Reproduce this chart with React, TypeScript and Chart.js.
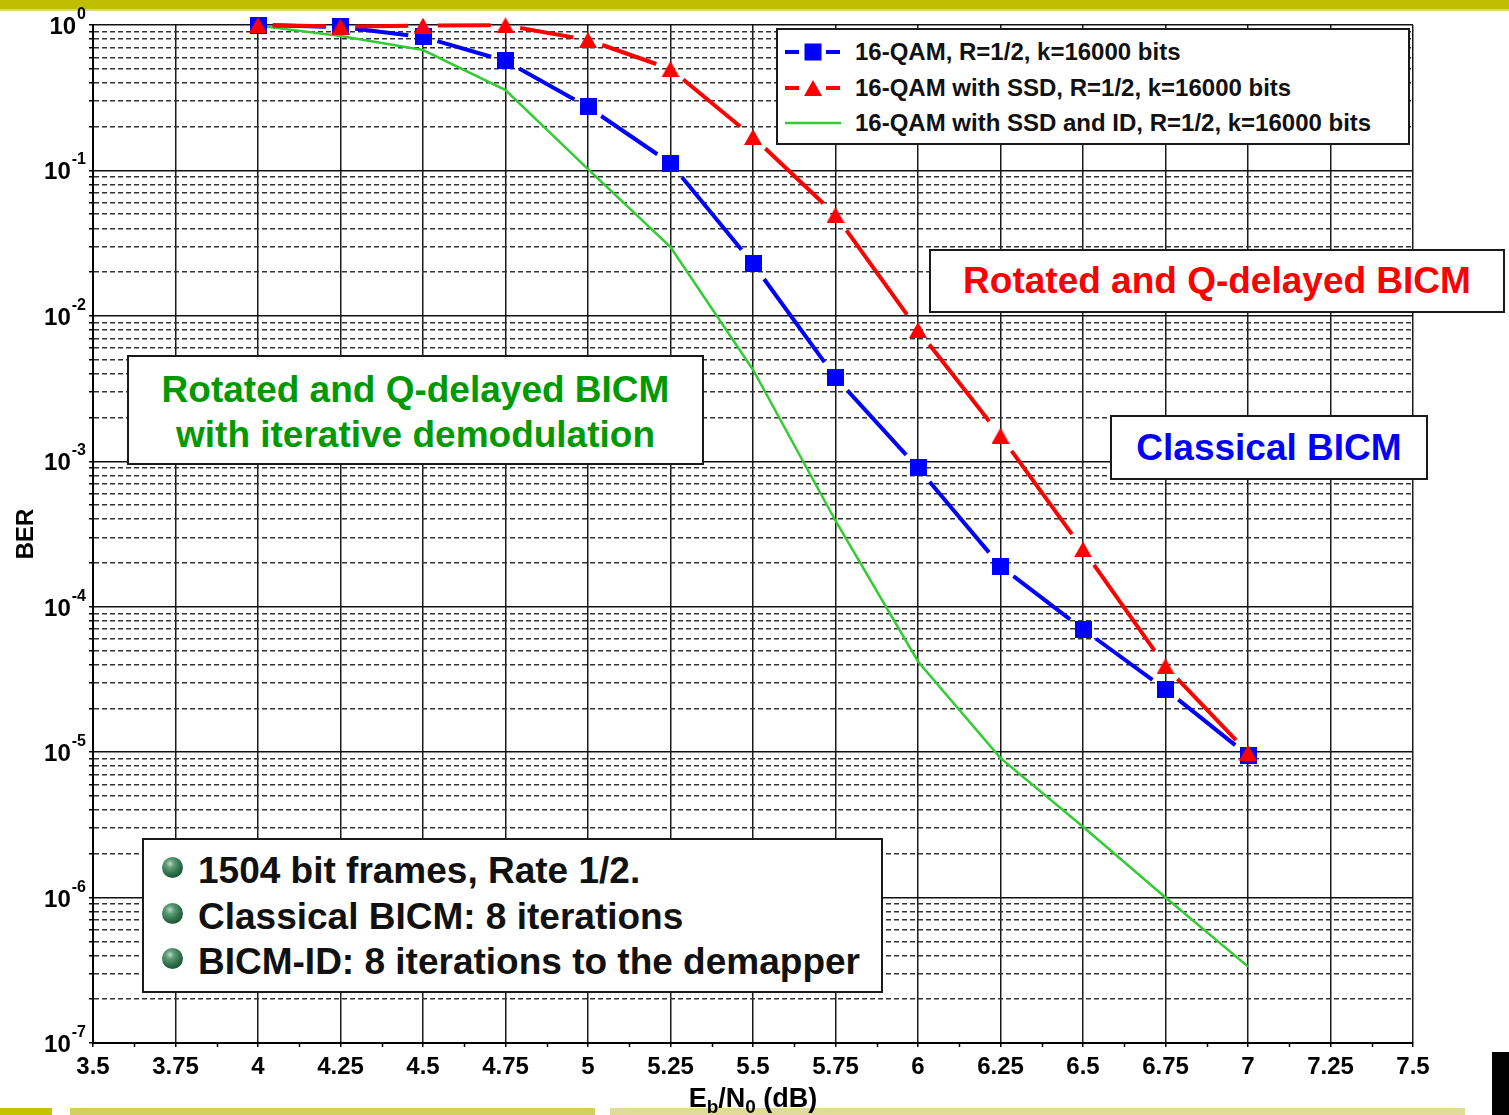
import React, { useEffect, useRef } from 'react';
import { Chart, registerables } from 'chart.js';

Chart.register(...registerables);

const FONT = '"Liberation Sans", Arial, Helvetica, sans-serif';

// ---------------- data ----------------
const ebn0Db = [4, 4.25, 4.5, 4.75, 5, 5.25, 5.5, 5.75, 6, 6.25, 6.5, 6.75, 7];
const berClassical = [1.0, 0.969, 0.827, 0.566, 0.273, 0.112, 0.0228, 0.00378, 9.0e-4, 1.9e-4, 7.0e-5, 2.7e-5, 9.5e-6];
const berSsd = [1.0, 0.975, 0.99, 0.995, 0.789, 0.498, 0.17, 0.0494, 0.008, 0.0015, 2.48e-4, 3.9e-5, 9.9e-6];
const berSsdId = [0.99, 0.84, 0.673, 0.357, 0.102, 0.0297, 0.00426, 3.9e-4, 4.2e-5, 9.1e-6, 3.07e-6, 1.0e-6, 3.35e-7];

const xTickValues = [3.5, 3.75, 4, 4.25, 4.5, 4.75, 5, 5.25, 5.5, 5.75, 6, 6.25, 6.5, 6.75, 7, 7.25, 7.5];
const xTickLabels = ['3.5', '3.75', '4', '4.25', '4.5', '4.75', '5', '5.25', '5.5', '5.75', '6', '6.25', '6.5', '6.75', '7', '7.25', '7.5'];
const yDecadeExponents = [0, -1, -2, -3, -4, -5, -6, -7];
const yMinorMultipliers = [2, 3, 4, 5, 6, 7, 8, 9];

const seriesLabels = [
  '16-QAM, R=1/2, k=16000 bits',
  '16-QAM with SSD, R=1/2, k=16000 bits',
  '16-QAM with SSD and ID, R=1/2, k=16000 bits',
];
const xTitleParts = [
  { t: 'E', sub: false },
  { t: 'b', sub: true },
  { t: '/N', sub: false },
  { t: '0', sub: true },
  { t: ' (dB)', sub: false },
];
const yTitle = 'BER';
const redNote = 'Rotated and Q-delayed BICM';
const blueNote = 'Classical BICM';
const greenNoteLines = ['Rotated and Q-delayed BICM', 'with iterative demodulation'];
const bulletLines = ['1504 bit frames, Rate 1/2.', 'Classical BICM: 8 iterations', 'BICM-ID: 8 iterations to the demapper'];

// ---------------- helpers ----------------
const BLUE = '#0000FF';
const RED = '#FF0000';
const GREEN_LINE = '#33CC33';

function isDecade(v: number | undefined) {
  if (v === undefined || v <= 0) return false;
  const l = Math.log10(v);
  return Math.abs(l - Math.round(l)) < 1e-6;
}

function buildYTicks() {
  const vals: number[] = [];
  const exps = [...yDecadeExponents].sort((a, b) => a - b);
  exps.forEach((e) => {
    vals.push(Number(Math.pow(10, e).toPrecision(12)));
    if (e < 0) {
      yMinorMultipliers.forEach((m) => vals.push(Number((m * Math.pow(10, e)).toPrecision(12))));
    }
  });
  return vals.sort((a, b) => a - b).map((value) => ({ value, major: isDecade(value) }));
}

function makeTriangle(color: string, w: number, h: number) {
  const c = document.createElement('canvas');
  c.width = w;
  c.height = h;
  const g = c.getContext('2d')!;
  g.fillStyle = color;
  g.beginPath();
  g.moveTo(w / 2, 0);
  g.lineTo(w, h);
  g.lineTo(0, h);
  g.closePath();
  g.fill();
  return c;
}

function makeSquare(color: string, s: number) {
  const c = document.createElement('canvas');
  c.width = s;
  c.height = s;
  const g = c.getContext('2d')!;
  g.fillStyle = color;
  g.fillRect(0, 0, s, s);
  return c;
}

// dash for each segment: leave a gap around each marker
const gapDash = (ctx: any) => {
  const L = Math.hypot(ctx.p1.x - ctx.p0.x, ctx.p1.y - ctx.p0.y);
  const g = Math.min(9 + 0.07 * L, L / 2);
  return [0, g, Math.max(L - 2 * g, 0), 10000 + ctx.p0DataIndex];
};

const overlayPlugin = {
  id: 'overlayText',
  afterDraw(chart: any) {
    const { ctx } = chart;
    const x = chart.scales.x;
    const y = chart.scales.y;
    ctx.save();
    ctx.fillStyle = '#000';
    ctx.textBaseline = 'alphabetic';
    // y tick labels 10^e
    yDecadeExponents.forEach((e) => {
      const py = y.getPixelForValue(Math.pow(10, e));
      const right = y.right - 7;
      ctx.textAlign = 'right';
      ctx.font = `bold 16px ${FONT}`;
      const expStr = String(e);
      const ew = ctx.measureText(expStr).width;
      ctx.fillText(expStr, right, py - 6);
      ctx.font = `bold 24px ${FONT}`;
      ctx.fillText('10', right - ew - 1, py + 9);
    });
    // minor x tick marks
    ctx.strokeStyle = '#000';
    ctx.lineWidth = 1.5;
    for (let i = 0; i < xTickValues.length - 1; i++) {
      const px = Math.round(x.getPixelForValue((xTickValues[i] + xTickValues[i + 1]) / 2)) + 0.5;
      ctx.beginPath();
      ctx.moveTo(px, x.top);
      ctx.lineTo(px, x.top + 4);
      ctx.stroke();
    }
    // y title
    ctx.save();
    ctx.translate(33, (y.top + y.bottom) / 2);
    ctx.rotate(-Math.PI / 2);
    ctx.textAlign = 'center';
    ctx.font = `bold 24px ${FONT}`;
    ctx.fillText(yTitle, 0, 0);
    ctx.restore();
    // x title with subscripts
    const mainF = `bold 27px ${FONT}`;
    const subF = `bold 19px ${FONT}`;
    let total = 0;
    const widths = xTitleParts.map((p) => {
      ctx.font = p.sub ? subF : mainF;
      const w = ctx.measureText(p.t).width;
      total += w;
      return w;
    });
    let cx = (x.left + x.right) / 2 - total / 2;
    const base = 1107;
    ctx.textAlign = 'left';
    xTitleParts.forEach((p, i) => {
      ctx.font = p.sub ? subF : mainF;
      ctx.fillText(p.t, cx, p.sub ? base + 6 : base);
      cx += widths[i];
    });
    ctx.restore();
  },
};

const boxStyle: React.CSSProperties = {
  position: 'absolute',
  boxSizing: 'border-box',
  border: '2px solid #1a1a1a',
  background: '#fff',
};

function LegendSample({ kind }: { kind: number }) {
  if (kind === 2) {
    return (
      <svg width={58} height={24} style={{ display: 'block' }}>
        <line x1={1} y1={12} x2={57} y2={12} stroke={GREEN_LINE} strokeWidth={2.5} />
      </svg>
    );
  }
  const color = kind === 0 ? BLUE : RED;
  return (
    <svg width={58} height={24} style={{ display: 'block' }}>
      <line x1={1} y1={12} x2={15} y2={12} stroke={color} strokeWidth={4} />
      <line x1={42} y1={12} x2={56} y2={12} stroke={color} strokeWidth={4} />
      {kind === 0 ? (
        <rect x={20.5} y={3.5} width={17} height={17} fill={color} />
      ) : (
        <polygon points="29,4 38,20 20,20" fill={color} />
      )}
    </svg>
  );
}

export default function App() {
  const canvasRef = useRef<HTMLCanvasElement>(null);

  useEffect(() => {
    const canvas = canvasRef.current;
    if (!canvas) return;
    const squareImg = makeSquare(BLUE, 17);
    const triImg = makeTriangle(RED, 18, 16);
    const yTicks = buildYTicks();

    const chart = new Chart(canvas, {
      type: 'line',
      data: {
        datasets: [
          {
            label: seriesLabels[1],
            data: ebn0Db.map((v, i) => ({ x: v, y: berSsd[i] })),
            borderColor: RED,
            backgroundColor: RED,
            borderWidth: 4,
            pointStyle: triImg as any,
            pointRadius: 9,
            pointBorderWidth: 0,
            tension: 0,
            segment: { borderDash: gapDash },
            clip: false as any,
            order: 0,
          },
          {
            label: seriesLabels[0],
            data: ebn0Db.map((v, i) => ({ x: v, y: berClassical[i] })),
            borderColor: BLUE,
            backgroundColor: BLUE,
            borderWidth: 4,
            pointStyle: squareImg as any,
            pointRadius: 9,
            pointBorderWidth: 0,
            tension: 0,
            segment: { borderDash: gapDash },
            clip: false as any,
            order: 1,
          },
          {
            label: seriesLabels[2],
            data: ebn0Db.map((v, i) => ({ x: v, y: berSsdId[i] })),
            borderColor: GREEN_LINE,
            backgroundColor: GREEN_LINE,
            borderWidth: 2.5,
            pointRadius: 0,
            tension: 0,
            clip: false as any,
            order: 2,
          },
        ],
      },
      options: {
        animation: false,
        responsive: false,
        maintainAspectRatio: false,
        layout: { padding: { left: 0, top: 25, right: 96, bottom: 0 } },
        plugins: { legend: { display: false }, tooltip: { enabled: false } },
        scales: {
          x: {
            type: 'linear',
            min: 3.5,
            max: 7.5,
            afterBuildTicks: (s: any) => {
              s.ticks = xTickValues.map((value) => ({ value }));
            },
            afterFit: (s: any) => {
              s.height = 72;
            },
            ticks: {
              autoSkip: false,
              maxRotation: 0,
              padding: 6,
              color: '#000',
              font: { family: FONT, size: 24, weight: 'bold' },
              callback: (_v: any, i: number) => xTickLabels[i],
            },
            grid: { color: '#1a1a1a', lineWidth: 1.5, tickLength: 4, tickColor: '#000', tickWidth: 1.5 },
            border: { color: '#000', width: 2 },
          },
          y: {
            type: 'logarithmic',
            min: 1e-7,
            max: 1,
            afterBuildTicks: (s: any) => {
              s.ticks = yTicks.map((t) => ({ ...t }));
            },
            afterFit: (s: any) => {
              s.width = 93;
            },
            ticks: { display: false },
            grid: {
              color: (c: any) => (c.tick && isDecade(c.tick.value) ? '#111' : '#333'),
              lineWidth: 1.5,
              tickLength: 4,
              tickColor: '#000',
              tickWidth: 1.5,
            },
            border: {
              color: '#000',
              width: 2,
              dash: (c: any) => (c.tick && !isDecade(c.tick.value) ? [5, 3] : []),
            } as any,
          },
        },
      } as any,
      plugins: [overlayPlugin as any],
    });
    return () => chart.destroy();
  }, []);

  const textFont = `bold 37px ${FONT}`;

  return (
    <div
      style={{
        position: 'absolute',
        left: 0,
        top: 0,
        width: 1509,
        height: 1115,
        overflow: 'hidden',
        background: '#fff',
      }}
    >
      {/* decorative slide bars */}
      <div style={{ position: 'absolute', left: 0, top: 0, width: 1509, height: 9, background: '#BFBE00' }} />
      <div style={{ position: 'absolute', left: 0, top: 9, width: 1509, height: 2, background: '#D9D77A' }} />
      <div style={{ position: 'absolute', left: 0, top: 1108, width: 52, height: 7, background: '#C5C300' }} />
      <div style={{ position: 'absolute', left: 70, top: 1108, width: 525, height: 7, background: '#D3D05C' }} />
      <div style={{ position: 'absolute', left: 610, top: 1108, width: 855, height: 7, background: '#DFDC98' }} />
      <div style={{ position: 'absolute', left: 1492, top: 1052, width: 17, height: 63, background: '#000' }} />

      <canvas ref={canvasRef} width={1509} height={1115} style={{ position: 'absolute', left: 0, top: 0 }} />

      {/* legend */}
      <div style={{ ...boxStyle, left: 776, top: 28, width: 634, height: 117 }} />
      {seriesLabels.map((lab, i) => (
        <div
          key={lab}
          style={{
            position: 'absolute',
            left: 784,
            top: [38, 74, 109][i],
            height: 28,
            display: 'flex',
            alignItems: 'center',
            whiteSpace: 'nowrap',
          }}
        >
          <LegendSample kind={i} />
          <span style={{ marginLeft: 13, font: `bold 24px ${FONT}`, lineHeight: '28px', color: '#111' }}>{lab}</span>
        </div>
      ))}

      {/* red note */}
      <div style={{ ...boxStyle, left: 929, top: 249, width: 576, height: 64 }} />
      <div
        style={{
          position: 'absolute',
          left: 929,
          width: 576,
          top: 258,
          textAlign: 'center',
          font: textFont,
          lineHeight: '45px',
          color: RED,
          whiteSpace: 'nowrap',
        }}
      >
        {redNote}
      </div>

      {/* blue note */}
      <div style={{ ...boxStyle, left: 1110, top: 415, width: 318, height: 65 }} />
      <div
        style={{
          position: 'absolute',
          left: 1110,
          width: 318,
          top: 425,
          textAlign: 'center',
          font: textFont,
          lineHeight: '45px',
          color: BLUE,
          whiteSpace: 'nowrap',
        }}
      >
        {blueNote}
      </div>

      {/* green note */}
      <div style={{ ...boxStyle, left: 127, top: 355, width: 577, height: 110 }} />
      <div
        style={{
          position: 'absolute',
          left: 127,
          width: 577,
          top: 367,
          textAlign: 'center',
          font: textFont,
          lineHeight: '45px',
          color: '#009A00',
          whiteSpace: 'nowrap',
        }}
      >
        {greenNoteLines.map((l) => (
          <div key={l}>{l}</div>
        ))}
      </div>

      {/* bullet notes */}
      <div style={{ ...boxStyle, left: 142, top: 838, width: 741, height: 155 }} />
      {bulletLines.map((l, i) => (
        <React.Fragment key={l}>
          <div
            style={{
              position: 'absolute',
              left: 162,
              top: 857 + i * 45.5,
              width: 21,
              height: 21,
              borderRadius: '50%',
              background:
                'radial-gradient(circle at 38% 32%, #b9dcc6 0%, #5f9c78 22%, #2c6e48 55%, #184a2f 85%, #0f3520 100%)',
            }}
          />
          <div
            style={{
              position: 'absolute',
              left: 198,
              top: 848 + i * 45.5,
              font: textFont,
              lineHeight: '45px',
              color: '#111',
              whiteSpace: 'nowrap',
            }}
          >
            {l}
          </div>
        </React.Fragment>
      ))}
    </div>
  );
}
